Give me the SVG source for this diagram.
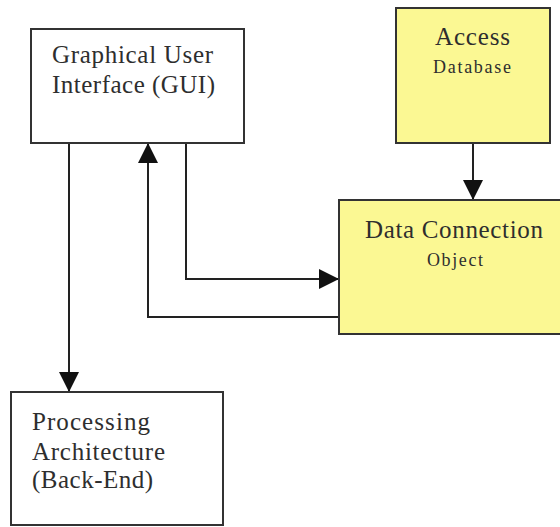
<svg xmlns="http://www.w3.org/2000/svg" width="560" height="527" viewBox="0 0 560 527">
<style>
.box{fill:#ffffff;stroke:#333333;stroke-width:2}
.yel{fill:#fbf893;stroke:#333333;stroke-width:2}
.t{font-family:"Liberation Serif","Times New Roman",serif;fill:#2e2e2e}
.big{font-size:25px}
.small{font-size:18px}
.con{fill:none;stroke:#222222;stroke-width:2}
</style>
<defs>
<marker id="ah" viewBox="0 0 20 20" refX="20" refY="10" markerWidth="20" markerHeight="20" markerUnits="userSpaceOnUse" orient="auto">
<path d="M0,0 L20,10 L0,20 z" fill="#111111"/>
</marker>
</defs>
<rect width="560" height="527" fill="#ffffff"/>
<g id="connectors">
<path class="con" d="M69,143 V392" marker-end="url(#ah)"/>
<path class="con" d="M339,317 H148 V143" marker-end="url(#ah)"/>
<path class="con" d="M186,143 V279 H339" marker-end="url(#ah)"/>
<path class="con" d="M473,143 V200" marker-end="url(#ah)"/>
</g>
<g id="gui">
<rect class="box" x="31" y="29" width="213" height="114"/>
<text class="t big" x="52" y="63" textLength="161" lengthAdjust="spacing">Graphical User</text>
<text class="t big" x="52" y="93" textLength="163" lengthAdjust="spacing">Interface (GUI)</text>
</g>
<g id="access">
<rect class="yel" x="396" y="8" width="154" height="135"/>
<text class="t big" x="435" y="45" textLength="75" lengthAdjust="spacing">Access</text>
<text class="t small" x="433" y="73" textLength="78" lengthAdjust="spacing">Database</text>
</g>
<g id="dco">
<rect class="yel" x="339" y="200" width="240" height="134"/>
<text class="t big" x="365" y="238" textLength="178" lengthAdjust="spacing">Data Connection</text>
<text class="t small" x="427" y="266" textLength="56" lengthAdjust="spacing">Object</text>
</g>
<g id="processing">
<rect class="box" x="11" y="392" width="212" height="133"/>
<text class="t big" x="32" y="430" textLength="118" lengthAdjust="spacing">Processing</text>
<text class="t big" x="32" y="460" textLength="133" lengthAdjust="spacing">Architecture</text>
<text class="t big" x="32" y="488" textLength="121" lengthAdjust="spacing">(Back-End)</text>
</g>
</svg>
